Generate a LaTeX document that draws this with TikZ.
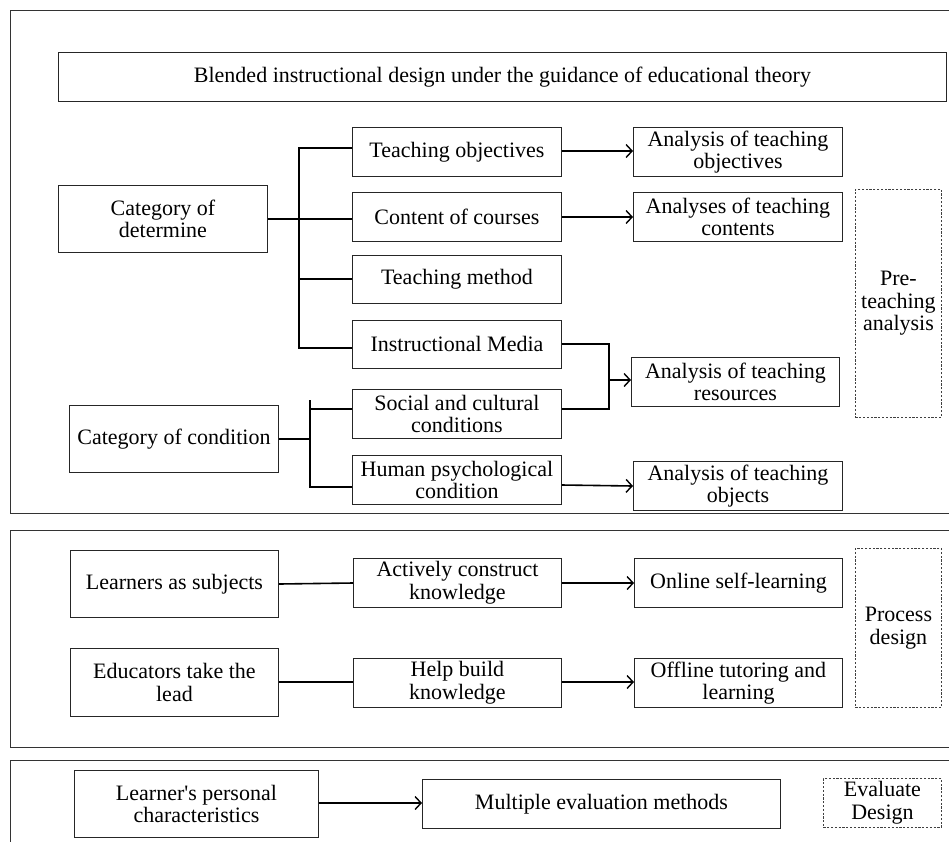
\documentclass[tikz,border=0pt]{standalone}
\usepackage{fontspec}
\setmainfont{Liberation Serif}
\usetikzlibrary{arrows.meta}
\tikzset{
  box/.style={draw=black!85, line width=0.9pt, align=center, inner sep=0pt, anchor=north west, font=\fontsize{22}{22.5}\selectfont},
  dbox/.style={box, draw=black!75, dashed, dash pattern=on 2.2pt off 1.6pt, line width=0.9pt},
  panel/.style={draw=black!80, line width=0.9pt},
  conn/.style={draw=black, line width=1.6pt},
  arr/.style={conn, -{Straight Barb[length=6pt,width=13pt,line width=1.4pt]}}
}
\begin{document}
\begin{tikzpicture}[x=1pt,y=-1pt]
\useasboundingbox (0,0) rectangle (949,841);
% panels
\draw[panel] (10,10) rectangle (980,513);
\draw[panel] (10,530) rectangle (980,747);
\draw[panel] (10,760) rectangle (980,900);
% panel 1
\node[box, minimum width=888pt, minimum height=49pt] (title) at (58,52) {Blended instructional design under the guidance of educational theory};
\node[box, minimum width=209pt, minimum height=67pt] (catdet) at (58,185) {Category of\\determine};
\node[box, minimum width=209pt, minimum height=49pt] (tobj) at (352,127) {Teaching objectives};
\node[box, minimum width=209pt, minimum height=49pt] (ccourse) at (352,192) {Content of courses};
\node[box, minimum width=209pt, minimum height=48pt] (tmethod) at (352,255) {Teaching method};
\node[box, minimum width=209pt, minimum height=48pt] (imedia) at (352,320) {Instructional Media};
\node[box, minimum width=209pt, minimum height=49pt] (social) at (352,389) {Social and cultural\\conditions};
\node[box, minimum width=209pt, minimum height=49pt] (human) at (352,455) {Human psychological\\condition};
\node[box, minimum width=209pt, minimum height=67pt] (catcond) at (69,405) {Category of condition};
\node[box, minimum width=209pt, minimum height=49pt] (aobj) at (633,127) {Analysis of teaching\\objectives};
\node[box, minimum width=209pt, minimum height=49pt] (acont) at (633,192) {Analyses of teaching\\contents};
\node[box, minimum width=208pt, minimum height=49pt] (ares) at (631,357) {Analysis of teaching\\resources};
\node[box, minimum width=209pt, minimum height=49pt] (aobjects) at (633,461) {Analysis of teaching\\objects};
\node[dbox, minimum width=86pt, minimum height=228pt] (pre) at (855,189) {Pre-\\teaching\\analysis};
% connectors panel 1
\coordinate (tD) at (299,219);
\draw[conn] (catdet.east |- tD) -- (tD);
\draw[conn] (tobj.west |- 0,148) -| (299,348) -- (imedia.west |- 0,348);
\draw[conn] (tD) -- (ccourse.west |- tD);
\draw[conn] (299,279) -- (tmethod.west |- 0,279);
\draw[arr] (tobj.east |- 0,151) -- (aobj.west |- 0,151);
\draw[arr] (ccourse.east |- 0,217) -- (acont.west |- 0,217);
\draw[conn] (imedia.east |- 0,344) -| (609,409) -- (social.east |- 0,409);
\draw[arr] (609,380) -- (ares.west |- 0,380);
\draw[conn] (catcond.east) -- ++(32,0);
\draw[conn] (social.west |- 0,409) -| (310,400);
\draw[conn] (310,409) |- (human.west |- 0,487);
\draw[arr] (human.east |- 0,485) -- (aobjects.west |- 0,486);
% panel 2
\node[box, minimum width=208pt, minimum height=67pt] (learn) at (70,550) {Learners as subjects};
\node[box, minimum width=208pt, minimum height=49pt] (active) at (353,558) {Actively construct\\knowledge};
\node[box, minimum width=208pt, minimum height=49pt] (online) at (634,558) {Online self-learning};
\node[dbox, minimum width=86pt, minimum height=159pt] (proc) at (855,548) {Process\\design};
\node[box, minimum width=208pt, minimum height=68pt] (edu) at (70,648) {Educators take the\\lead};
\node[box, minimum width=208pt, minimum height=49pt] (help) at (353,658) {Help build\\knowledge};
\node[box, minimum width=208pt, minimum height=49pt] (offline) at (634,658) {Offline tutoring and\\learning};
\draw[conn] (learn.east |- 0,584) -- (active.west |- 0,583);
\draw[arr] (active.east |- 0,583) -- (online.west |- 0,583);
\draw[conn] (edu.east |- 0,682) -- (help.west |- 0,682);
\draw[arr] (help.east |- 0,682) -- (offline.west |- 0,682);
% panel 3
\node[box, minimum width=244pt, minimum height=67pt] (lpc) at (74,770) {Learner\textquotesingle s personal\\characteristics};
\node[box, minimum width=358pt, minimum height=49pt] (mult) at (422,779) {Multiple evaluation methods};
\node[dbox, minimum width=118pt, minimum height=49pt] (evald) at (823,778) {Evaluate\\Design};
\draw[arr] (lpc.east |- 0,803) -- (mult.west |- 0,803);
\end{tikzpicture}
\end{document}
